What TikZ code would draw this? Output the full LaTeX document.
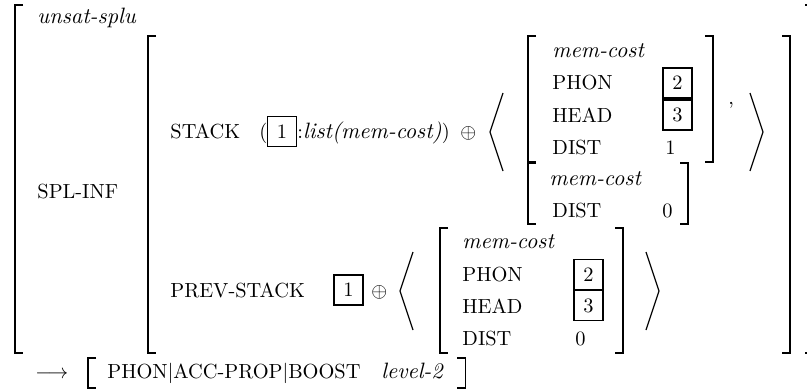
\documentclass[tikz,border=0pt]{standalone}
\usepackage{amsmath}
\usepackage{amssymb}
\usetikzlibrary{positioning}

\newdimen\px \px=0.49pt
\newcommand{\ty}[1]{{\fontsize{10.9pt}{13pt}\selectfont\itshape #1}}
\tikzset{
  feat/.style={anchor=base west, inner sep=0pt},
  tagbox/.style={draw, line width=0.8pt, minimum width=29\px, minimum height=30\px, inner sep=0pt},
  brk/.style={line width=0.55pt},
}
% brackets: x, top y, bottom y
\newcommand{\avmL}[3]{\draw[brk] ({#1+8},#2) -- (#1,#2) -- (#1,#3) -- ({#1+8},#3);}
\newcommand{\avmR}[3]{\draw[brk] ({#1-8},#2) -- (#1,#2) -- (#1,#3) -- ({#1-8},#3);}
% angle brackets: tip x, tip y
\newcommand{\angL}[2]{\draw[brk] ({#1+13},{#2-39}) -- (#1,#2) -- ({#1+13},{#2+39});}
\newcommand{\angR}[2]{\draw[brk] ({#1-13},{#2-39}) -- (#1,#2) -- ({#1-13},{#2+39});}

\begin{document}
\begin{tikzpicture}[x=\px,y=-\px]
\useasboundingbox (0,0) rectangle (807,389);

%Shape: Outer brackets
\avmL{15}{5}{353}
\avmR{813}{5}{353}

% Text Node
\node[feat] (type) at (37,24) {\ty{unsat-splu}};
\node[feat] (splinf) at (37,198) {SPL-INF};

%Shape: SPL-INF brackets
\avmL{148}{36}{353}
\avmR{790}{36}{353}

% STACK row
\node[feat] (stack) at (170,138) {STACK};
\node[feat] (lpar) at (259,138) {(};
\node[tagbox] (tagA) at (282,131.5) {1};
\node[feat] (lst) at (297,138) {:\ty{list(mem-cost)})};
\node[feat] (opA) at (460,138) {$\oplus$};
\angL{490}{132}
\angR{763}{132}

%Shape: first mem-cost
\avmL{528}{36}{162}
\avmR{713}{36}{162}
\node[feat] (mcA) at (552,58) {\ty{mem-cost}};
\node[feat] (phonA) at (552,90) {PHON};
\node[feat] (headA) at (552,122) {HEAD};
\node[feat] (distA) at (552,154) {DIST};
\node[tagbox] (tagB) at (677.5,83) {2};
\node[tagbox] (tagC) at (677.5,115) {3};
\node[feat] (valA) at (665,154) {1};
\node[feat] (comma) at (728,104) {,};

%Shape: second mem-cost
\avmL{528}{163}{224}
\avmR{688}{163}{224}
\node[feat] (mcB) at (549,185) {\ty{mem-cost}};
\node[feat] (distB) at (552,217) {DIST};
\node[feat] (valB) at (662,217) {0};

% PREV-STACK row
\node[feat] (prev) at (170,297) {PREV-STACK};
\node[tagbox] (tagD) at (348.5,290) {1};
\node[feat] (opB) at (371,297) {$\oplus$};
\angL{400}{291}
\angR{659}{291}

%Shape: third mem-cost
\avmL{440}{228}{353}
\avmR{623}{228}{353}
\node[feat] (mcC) at (462,248) {\ty{mem-cost}};
\node[feat] (phonC) at (462,281) {PHON};
\node[feat] (headC) at (462,313) {HEAD};
\node[feat] (distC) at (462,345) {DIST};
\node[tagbox] (tagE) at (588.5,274.5) {2};
\node[tagbox] (tagF) at (588.5,305.5) {3};
\node[feat] (valC) at (575,345) {0};

% bottom line
\node[feat] (arr) at (35,378) {$\longrightarrow$};
\avmL{88}{358}{388}
\node[feat] (path) at (107,378) {PHON$|$ACC-PROP$|$BOOST};
\node[feat] (lev) at ([xshift=20\px]path.base east) {\ty{level-2}};
\coordinate (rb) at ([xshift=22\px]lev.base east);
\coordinate (rbt) at (rb |- 0,358);
\coordinate (rbb) at (rb |- 0,388);
\draw[brk] ([xshift=-8\px]rbt) -- (rbt) -- (rbb) -- ([xshift=-8\px]rbb);

\end{tikzpicture}
\end{document}
